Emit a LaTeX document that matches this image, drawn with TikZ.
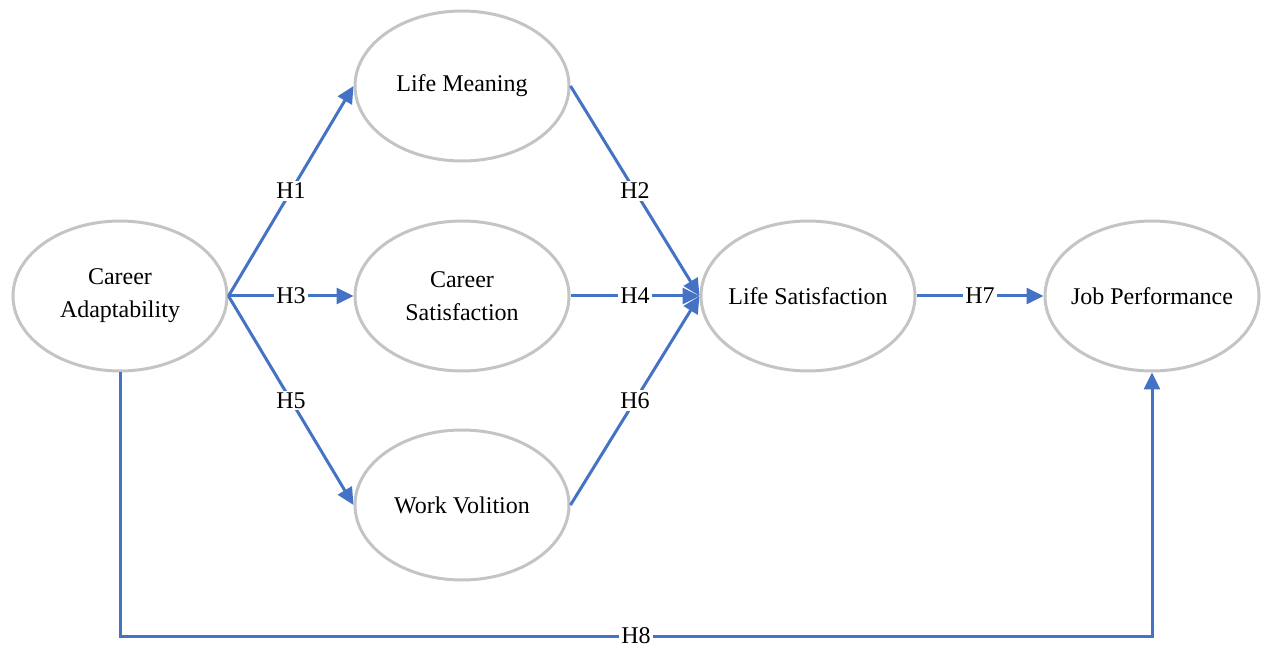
\documentclass[tikz,border=0pt]{standalone}
\usepackage{fontspec}
\setmainfont{Liberation Serif}
\usetikzlibrary{shapes.geometric, arrows.meta, positioning}
\definecolor{linkblue}{RGB}{68, 114, 196}
\definecolor{rimgray}{RGB}{196, 196, 196}
\tikzset{
  construct/.style={ellipse, draw=rimgray, line width=1.5pt, minimum width=107pt, minimum height=75pt, align=center, inner xsep=-14pt, inner ysep=0pt, font=\fontsize{12}{16.5}\selectfont},
  link/.style={draw=linkblue, line width=1.5pt, -{Triangle[length=8.5pt, width=8pt]}},
  hlabel/.style={fill=white, inner sep=1pt, font=\fontsize{12}{14}\selectfont}
}

\begin{document}
\begin{tikzpicture}[x=0.5pt, y=-0.5pt]
  \useasboundingbox (0, 0) rectangle (1263, 646);

  % Constructs
  \node[construct] (ca) at (120, 296) {Career\\Adaptability};
  \node[construct] (lm) at (462, 86) {Life Meaning};
  \node[construct] (cs) at (462, 296) {Career\\Satisfaction};
  \node[construct] (wv) at (462, 505) {Work Volition};
  \node[construct] (ls) at (808, 296) {Life Satisfaction};
  \node[construct] (jp) at (1152, 296) {Job Performance};

  % Hypotheses
  \draw[link] (ca.east) -- node[hlabel] {H1} (lm.west);
  \draw[link] (ca.east) -- node[hlabel] {H3} (cs.west);
  \draw[link] (ca.east) -- node[hlabel] {H5} (wv.west);
  \draw[link] (lm.east) -- node[hlabel] {H2} (ls.west);
  \draw[link] (cs.east) -- node[hlabel] {H4} (ls.west);
  \draw[link] (wv.east) -- node[hlabel] {H6} (ls.west);
  \draw[link] (ls.east) -- node[hlabel] {H7} (jp.west);

  % Direct path
  \coordinate (h8l) at (120, 636);
  \coordinate (h8r) at (1152, 636);
  \draw[link] (ca.south) -- (h8l) -- node[hlabel, inner ysep=0pt] {H8} (h8r) -- (jp.south);
\end{tikzpicture}
\end{document}
